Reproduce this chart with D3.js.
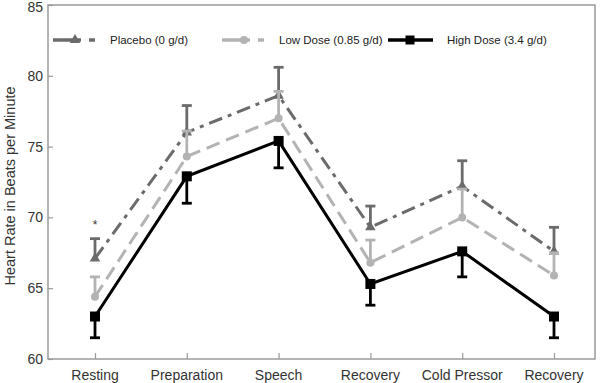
<!DOCTYPE html>
<html>
<head>
<meta charset="utf-8">
<script src="https://cdn.jsdelivr.net/npm/d3@7"></script>
<style>
  body { margin: 0; background: #fff; }
  text { font-family: "Liberation Sans", Arial, sans-serif; }
</style>
</head>
<body>
<div id="chart"></div>
<script>
// Data
var phases = ["Resting", "Preparation", "Speech", "Recovery", "Cold Pressor", "Recovery "];
var phaseLabels = ["Resting", "Preparation", "Speech", "Recovery", "Cold Pressor", "Recovery"];
var placebo = [67.1, 76.0, 78.6, 69.3, 72.2, 67.6];
var placeboErr = [1.4, 1.9, 2.0, 1.5, 1.8, 1.7];
var lowDose = [64.4, 74.3, 77.0, 66.8, 70.0, 65.9];
var lowDoseErr = [1.4, 1.8, 1.9, 1.6, 2.0, 1.6];
var highDose = [63.0, 72.9, 75.4, 65.3, 67.6, 63.0];
var highDoseErr = [1.5, 1.9, 1.9, 1.5, 1.8, 1.5];
var yTicks = [60, 65, 70, 75, 80, 85];

var width = 600, height = 383;
var frame = {left: 48, right: 595, top: 5, bottom: 359};

var series = [
  {name: "Placebo (0 g/d)", values: placebo, err: placeboErr, dir: 1, color: "#6b6b6b", dash: "14,6,4,6", marker: "triangle"},
  {name: "Low Dose (0.85 g/d)", values: lowDose, err: lowDoseErr, dir: 1, color: "#b3b3b3", dash: "14,7", marker: "circle"},
  {name: "High Dose (3.4 g/d)", values: highDose, err: highDoseErr, dir: -1, color: "#000000", dash: null, marker: "square"}
];

var svg = d3.select("#chart")
    .append("svg")
    .attr("width", width)
    .attr("height", height);

var x = d3.scalePoint()
    .domain(phases)
    .range([95, 554]);

var y = d3.scaleLinear()
    .domain([60, 85])
    .range([frame.bottom, frame.top]);

// frame
svg.append("rect")
    .attr("x", frame.left)
    .attr("y", frame.top)
    .attr("width", frame.right - frame.left)
    .attr("height", frame.bottom - frame.top)
    .attr("fill", "none")
    .attr("stroke", "#9a9a9a")
    .attr("stroke-width", 1.5);

// y axis (ticks inside)
var yAxis = svg.append("g")
    .attr("transform", "translate(" + frame.left + ",0)")
    .call(d3.axisRight(y).tickValues(yTicks).tickSize(5).tickFormat(""));
yAxis.select(".domain").remove();
yAxis.selectAll("line").attr("stroke", "#9a9a9a").attr("stroke-width", 1.2);

svg.selectAll(".ylab")
    .data(yTicks)
    .enter()
    .append("text")
    .attr("x", frame.left - 5)
    .attr("y", function (d) { return Math.max(y(d), 7); })
    .attr("dy", "0.36em")
    .attr("text-anchor", "end")
    .attr("font-size", 14)
    .attr("fill", "#333")
    .text(function (d) { return d; });

// x axis (ticks inside)
var xAxis = svg.append("g")
    .attr("transform", "translate(0," + frame.bottom + ")")
    .call(d3.axisTop(x).tickSize(6).tickFormat(""));
xAxis.select(".domain").remove();
xAxis.selectAll("line").attr("stroke", "#9a9a9a").attr("stroke-width", 1.2);

svg.selectAll(".xlab")
    .data(phases)
    .enter()
    .append("text")
    .attr("x", function (d) { return x(d); })
    .attr("y", 380)
    .attr("text-anchor", "middle")
    .attr("font-size", 14)
    .attr("fill", "#333")
    .text(function (d, i) { return phaseLabels[i]; });

svg.append("text")
    .attr("transform", "translate(15,186) rotate(-90)")
    .attr("text-anchor", "middle")
    .attr("font-size", 14.5)
    .attr("fill", "#333")
    .text("Heart Rate in Beats per Minute");

var line = d3.line()
    .x(function (d, i) { return x(phases[i]); })
    .y(function (d) { return y(d); });

function drawMarker(g, type, cx, cy, color, s) {
  if (type === "square") {
    g.append("rect").attr("x", cx - s).attr("y", cy - s)
      .attr("width", 2 * s).attr("height", 2 * s).attr("fill", color);
  } else if (type === "circle") {
    g.append("circle").attr("cx", cx).attr("cy", cy).attr("r", s).attr("fill", color);
  } else {
    g.append("path")
      .attr("d", d3.symbol().type(d3.symbolTriangle).size(s * s * 3)())
      .attr("transform", "translate(" + cx + "," + cy + ")")
      .attr("fill", color);
  }
}

// draw in order: placebo, low, high (high on top)
series.forEach(function (s) {
  var g = svg.append("g");
  // error bars
  s.values.forEach(function (v, i) {
    var cx = x(phases[i]);
    var yEnd = y(v + s.dir * s.err[i]);
    g.append("line")
      .attr("x1", cx).attr("x2", cx)
      .attr("y1", y(v)).attr("y2", yEnd)
      .attr("stroke", s.color).attr("stroke-width", 2.8);
    g.append("line")
      .attr("x1", cx - 5).attr("x2", cx + 5)
      .attr("y1", yEnd).attr("y2", yEnd)
      .attr("stroke", s.color).attr("stroke-width", 2.8);
  });
  g.append("path")
    .datum(s.values)
    .attr("d", line)
    .attr("fill", "none")
    .attr("stroke", s.color)
    .attr("stroke-width", 3)
    .attr("stroke-dasharray", s.dash);
  s.values.forEach(function (v, i) {
    drawMarker(g, s.marker, x(phases[i]), y(v), s.color, s.marker === "square" ? 5 : 4);
  });
});

// significance star
svg.append("text")
    .attr("x", x(phases[0]))
    .attr("y", y(placebo[0] + placeboErr[0]) - 10)
    .attr("text-anchor", "middle")
    .attr("font-size", 12)
    .attr("fill", "#333")
    .text("*");

// legend
var legendX = [53, 222, 388];
var legend = svg.selectAll(".legend")
    .data(series)
    .enter()
    .append("g")
    .attr("transform", function (d, i) { return "translate(" + legendX[i] + ",40)"; });

legend.append("line")
    .attr("x1", 0).attr("x2", 45)
    .attr("y1", 0).attr("y2", 0)
    .attr("stroke", function (d) { return d.color; })
    .attr("stroke-width", 3.5)
    .attr("stroke-dasharray", function (d) { return d.dash ? "28,8,6,100" : null; });

legend.each(function (d) {
  drawMarker(d3.select(this), d.marker, 22, 0, d.color, d.marker === "square" ? 4.5 : 4);
});

legend.append("text")
    .attr("x", function (d, i) { return i === 2 ? 59 : 57; })
    .attr("y", 0)
    .attr("dy", "0.35em")
    .attr("font-size", 11.5)
    .attr("fill", "#222")
    .text(function (d) { return d.name; });
</script>
</body>
</html>
